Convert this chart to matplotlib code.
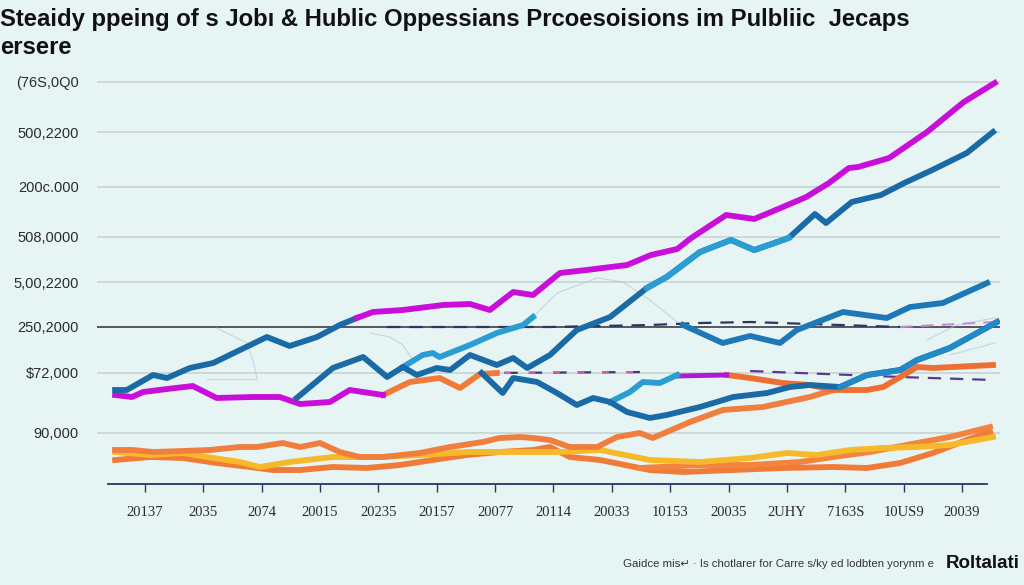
import matplotlib
matplotlib.use("Agg")
import matplotlib.pyplot as plt

# x in period units (tick index), y in chart value units
title_line1 = "Steaidy ppeing of s Jobı & Hublic Oppessians Prcoesoisions im Pulbliic  Jecaps"
title_line2 = "ersere"

x_labels = ["20137", "2035", "2074", "20015", "20235", "20157", "20077", "20114",
            "20033", "10153", "20035", "2UHY", "7163S", "10US9", "20039"]
y_ticks = [402, 352, 297, 247, 202, 157, 111, 51]
y_labels = ["(76S,0Q0", "500,2200", "200c.000", "508,0000", "5,00,2200", "250,2000", "$72,000", "90,000"]

blue_early_x = [-0.51, -0.31, 0.14, 0.38, 0.77, 1.17, 1.63, 2.09, 2.48, 2.95, 3.34, 3.63]
blue_early_y = [94, 94, 109, 106, 116, 121, 134, 147, 138, 147, 159, 166]

magenta_top_x = [3.63, 3.91, 4.42, 5.11, 5.57, 5.91, 6.31, 6.65, 7.11, 7.57, 8.26, 8.67, 9.12,
                 9.36, 9.96, 10.44, 10.93, 11.33, 11.72, 12.06, 12.22, 12.75, 13.40, 14.03, 14.56]
magenta_top_y = [166, 172, 174, 179, 180, 174, 192, 189, 211, 214, 219, 229, 235,
                 246, 269, 265, 277, 287, 301, 316, 317, 326, 352, 382, 401]

magenta_low_x = [-0.51, -0.22, -0.03, 0.38, 0.82, 1.23, 1.85, 2.31, 2.66, 3.17, 3.51, 4.08]
magenta_low_y = [89, 87, 92, 95, 98, 86, 87, 87, 80, 82, 94, 89]

orange_mid_a_x = [4.08, 4.54, 5.05, 5.40, 5.74, 6.03]
orange_mid_a_y = [89, 102, 106, 96, 110, 111]
orange_mid_b_x = [9.97, 10.37, 10.93, 11.39, 11.79, 12.37, 12.65, 12.94, 13.23, 13.50, 14.53]
orange_mid_b_y = [109, 106, 101, 99, 94, 94, 97, 107, 117, 116, 119]

purple_seg_x = [9.12, 9.97]
purple_seg_y = [108, 109]

blue_mid_x = [2.60, 3.22, 3.74, 4.15, 4.42, 4.66, 5.00, 5.23, 5.57, 6.03, 6.31, 6.55, 6.94, 7.40,
              7.97, 8.60, 8.94, 9.51, 10.04, 10.44, 11.03, 11.48, 11.67, 12.11, 12.61, 13.01,
              13.49, 14.08, 14.53]
blue_mid_y = [86, 116, 127, 107, 117, 109, 116, 114, 129, 119, 126, 116, 129, 154,
              167, 196, 207, 232, 244, 234, 246, 270, 261, 282, 289, 301, 314, 331, 352]

teal_x = [4.42, 4.76, 4.93, 5.05, 5.57, 6.03, 6.48, 6.65]
teal_y = [117, 129, 131, 127, 139, 151, 159, 167]

blue_low_x = [5.77, 6.13, 6.31, 6.72, 7.06, 7.40, 7.68, 7.97, 8.26, 8.65, 8.94, 9.51, 10.08,
              10.66, 11.05, 11.39, 11.91, 12.37, 12.94, 13.23, 13.79, 14.60]
blue_low_y = [111, 91, 106, 102, 91, 79, 86, 82, 72, 66, 69, 77, 87,
              91, 97, 99, 97, 109, 114, 124, 136, 162]

light_branch_x = [7.97, 8.31, 8.53, 8.82, 9.12]
light_branch_y = [82, 92, 102, 101, 109]

blue_right_x = [9.22, 9.90, 10.37, 10.88, 11.17, 11.96, 12.71, 13.11, 13.67, 14.43]
blue_right_y = [159, 141, 148, 141, 154, 172, 166, 177, 181, 201]

orange_up_x = [-0.51, -0.21, 0.14, 0.65, 1.11, 1.63, 1.92, 2.36, 2.66, 3.00, 3.34, 3.68, 4.08,
               4.71, 5.23, 5.79, 6.08, 6.43, 6.65, 6.94, 7.28, 7.75, 8.09, 8.48, 8.70, 9.34,
               9.90, 10.59, 11.39, 11.91]
orange_up_y = [34, 34, 32, 33, 34, 37, 37, 41, 37, 41, 32, 27, 27,
               31, 37, 42, 46, 47, 46, 44, 37, 37, 47, 51, 46, 62,
               74, 77, 87, 96]

yellow_x = [-0.51, 0.09, 0.65, 1.06, 1.63, 1.97, 2.48, 3.22, 4.03, 4.71, 5.57, 6.43, 7.11,
            7.80, 8.65, 9.51, 10.37, 11.00, 11.51, 12.08, 12.65, 13.23, 13.79, 14.53]
yellow_y = [32, 29, 31, 27, 22, 17, 22, 27, 27, 29, 32, 32, 32,
            34, 24, 22, 26, 31, 29, 34, 36, 37, 39, 47]

orange_low_x = [-0.51, 0.09, 0.65, 1.23, 1.80, 2.19, 2.66, 3.22, 3.80, 4.37, 4.93, 5.52, 6.08,
                6.65, 6.94, 7.28, 7.80, 8.65, 9.22, 10.08, 10.93, 11.79, 12.37, 12.94, 13.50,
                14.08, 14.48]
orange_low_y = [24, 27, 26, 21, 17, 14, 14, 17, 16, 19, 24, 29, 32,
                34, 37, 27, 24, 14, 12, 14, 16, 17, 16, 21, 31, 44, 52]

orange_3_x = [8.48, 9.51, 10.37, 11.22, 11.79, 12.42, 13.23, 13.79, 14.48]
orange_3_y = [16, 19, 19, 22, 27, 32, 41, 47, 57]

dash_top_x = [4.15, 6.94, 8.65, 9.51, 10.37, 12.94]
dash_top_y = [157, 157, 159, 161, 162, 157]
dash_top_pink_x = [12.94, 14.56]
dash_top_pink_y = [157, 162]

dash_mid_x = [5.74, 8.65]
dash_mid_y = [111, 112]
dash_mid_r_x = [10.37, 12.94, 14.53]
dash_mid_r_y = [113, 107, 104]

ghosts = [
    ([1.23, 1.75, 1.85, 1.92], [156, 141, 124, 106]),
    ([1.06, 1.92], [105, 105]),
    ([3.86, 4.20, 4.42, 4.59], [151, 147, 139, 124]),
    ([6.65, 7.06, 7.75, 8.19, 8.65, 9.12], [167, 191, 206, 202, 184, 162]),
    ([13.40, 13.91, 14.56], [144, 159, 166]),
    ([13.79, 14.56], [129, 141]),
]

BG = "#e7f4f4"
DARK_BLUE = "#1a6aa6"
LIGHT_BLUE = "#2a9dd2"
MAGENTA = "#c80ed8"
ORANGE = "#f07a38"
YELLOW = "#f5b92a"

fig = plt.figure(figsize=(10.24, 5.85), dpi=100, facecolor=BG)
ax = fig.add_axes([97 / 1024, 1 - 484 / 585, 903 / 1024, 424 / 585], facecolor=BG)
ax.set_xlim(-0.82, 14.65)
ax.set_ylim(0, 424)

for s in ["top", "right", "left"]:
    ax.spines[s].set_visible(False)
ax.spines["bottom"].set_color("#2a3560")
ax.spines["bottom"].set_linewidth(1.3)
ax.spines["bottom"].set_bounds(-0.63, 14.43)

ax.set_yticks(y_ticks)
ax.set_yticklabels(y_labels, fontsize=10.5, color="#2b2b2b", family="Liberation Sans")
ax.tick_params(axis="y", length=0, pad=13)
ax.yaxis.grid(True, color="#c6d0d1", linewidth=1.1)
ax.set_axisbelow(True)
ax.axhline(157, color="#4a4d55", linewidth=1.3, zorder=1)

ax.set_xticks(range(len(x_labels)))
ax.set_xticklabels(x_labels, fontsize=10.5, color="#2b2b2b", family="Liberation Serif")
ax.tick_params(axis="x", length=6, width=1, color="#2a3560", pad=10)

for gx, gy in ghosts:
    ax.plot(gx, gy, color="#b4c6d2", linewidth=0.9, alpha=0.6, zorder=2)

lw = 4.2
ax.plot(dash_top_x, dash_top_y, color="#2e3560", linewidth=1.6, dashes=(6, 4), zorder=3)
ax.plot(dash_top_pink_x, dash_top_pink_y, color="#c68bd0", linewidth=1.5, dashes=(6, 4), zorder=3)
ax.plot(dash_mid_x, dash_mid_y, color="#3a3a70", linewidth=1.6, dashes=(6, 5), zorder=3)
ax.plot(dash_mid_x, dash_mid_y, color="#d060b0", linewidth=1.6, dashes=(3, 8), zorder=3)
ax.plot(dash_mid_r_x, dash_mid_r_y, color="#5a3a90", linewidth=1.6, dashes=(6, 4), zorder=3)

ax.plot(orange_low_x, orange_low_y, color=ORANGE, linewidth=lw, solid_joinstyle="round", zorder=4)
ax.plot(orange_3_x, orange_3_y, color="#f2843e", linewidth=lw, solid_joinstyle="round", zorder=4)
ax.plot(yellow_x, yellow_y, color=YELLOW, linewidth=lw, solid_joinstyle="round", zorder=4)
ax.plot(orange_up_x, orange_up_y, color="#f07e3e", linewidth=lw, solid_joinstyle="round", zorder=5)

ax.plot(orange_mid_a_x, orange_mid_a_y, color=ORANGE, linewidth=lw, zorder=5)
ax.plot(orange_mid_b_x, orange_mid_b_y, color="#ef6f32", linewidth=lw, zorder=5)
ax.plot(purple_seg_x, purple_seg_y, color="#b018d8", linewidth=3.5, zorder=5)

ax.plot(magenta_low_x, magenta_low_y, color=MAGENTA, linewidth=lw, zorder=6)
ax.plot(light_branch_x, light_branch_y, color=LIGHT_BLUE, linewidth=lw, zorder=6)
ax.plot(blue_low_x, blue_low_y, color=DARK_BLUE, linewidth=lw, zorder=6)
ax.plot(blue_low_x[16:], blue_low_y[16:], color="#2189c6", linewidth=lw, zorder=6)
ax.plot(blue_right_x, blue_right_y, color="#1e78b6", linewidth=lw, zorder=6)
ax.plot(teal_x, teal_y, color=LIGHT_BLUE, linewidth=lw, zorder=6)
ax.plot(blue_mid_x, blue_mid_y, color=DARK_BLUE, linewidth=lw, zorder=7)
ax.plot(blue_mid_x[15:21], blue_mid_y[15:21], color=LIGHT_BLUE, linewidth=lw, zorder=7)
ax.plot(blue_early_x, blue_early_y, color=DARK_BLUE, linewidth=lw, zorder=7)
ax.plot(magenta_top_x, magenta_top_y, color=MAGENTA, linewidth=lw, zorder=8)

fig.text(0.0, 1 - 26 / 585, title_line1, fontsize=17.2, fontweight="bold",
         family="Liberation Sans", color="#111111", va="baseline")
fig.text(0.0, 1 - 54 / 585, title_line2, fontsize=17.2, fontweight="bold",
         family="Liberation Sans", color="#111111", va="baseline")

fig.text(623 / 1024, 1 - 567 / 585,
         "Gaidce mis\u21b5 \u00b7 Is chotlarer for Carre s/ky ed lodbten yorynm e",
         fontsize=8.2, color="#333333", family=["Liberation Sans", "DejaVu Sans"], va="baseline")
fig.text(1020 / 1024, 1 - 568 / 585, "Roltalati", fontsize=13.5, fontweight="bold",
         color="#111111", family="Liberation Sans", va="baseline", ha="right")

fig.savefig("out.png", dpi=100, facecolor=BG)
